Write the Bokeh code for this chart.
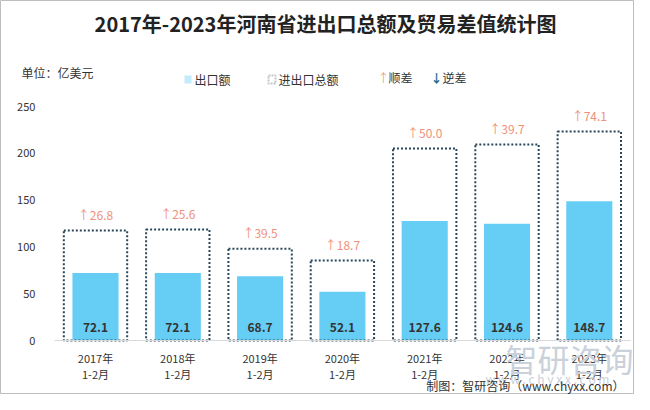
from bokeh.plotting import figure
from bokeh.models import ColumnDataSource, Label, BoxAnnotation, FixedTicker, Range1d
from bokeh.core.properties import value
from bokeh.embed import file_html
from bokeh.resources import INLINE

categories = ["2017年\n1-2月", "2018年\n1-2月", "2019年\n1-2月", "2020年\n1-2月",
              "2021年\n1-2月", "2022年\n1-2月", "2023年\n1-2月"]
exports = [72.1, 72.1, 68.7, 52.1, 127.6, 124.6, 148.7]
totals = [117.4, 118.6, 97.9, 85.5, 205.2, 209.5, 223.3]
balance = [26.8, 25.6, 39.5, 18.7, 50.0, 39.7, 74.1]
y_ticks = [0, 50, 100, 150, 200, 250]

FONT = "Noto Sans CJK SC"
W, H = 634, 394

# layout constants (pixels)
CAT_W = 82.3          # px per category
X0 = 95               # centre of first category
Y0 = 340              # y=0 baseline
PX_PER_UNIT = 0.936   # vertical scale

idx = list(range(len(categories)))
x_start = -X0 / CAT_W
x_end = (W - X0) / CAT_W
y_end = Y0 / PX_PER_UNIT
y_start = -(H - Y0) / PX_PER_UNIT

src = ColumnDataSource(dict(
    x=idx, exp=exports, tot=totals,
    bal_txt=["↑" + f"{b:.1f}" for b in balance],
    exp_txt=[f"{e:.1f}" for e in exports],
    zero=[0] * len(exports),
))

p = figure(x_range=Range1d(x_start, x_end), y_range=Range1d(y_start, y_end),
           width=W, height=H, output_backend="svg", toolbar_location=None, title=None,
           min_border=0)
p.outline_line_color = "#BDBDBD"
p.xgrid.grid_line_color = None
p.ygrid.grid_line_color = None

p.vbar(x="x", top="exp", width=0.56, source=src, fill_color="#66CEF5", line_color=None)
p.vbar(x="x", top="tot", width=0.77, source=src, fill_alpha=0, line_color="#28475A",
       line_width=2, line_dash="2 2")

p.text(x="x", y="zero", text="exp_txt", source=src, text_align="center", text_baseline="middle",
       y_offset=-13, text_font=value(FONT), text_font_size="12px", text_font_style="bold",
       text_color="#333333")
p.text(x="x", y="tot", text="bal_txt", source=src, text_align="center", text_baseline="middle",
       y_offset=-16, text_font=value(FONT), text_font_size="12px", text_color="#F0907A")

# axes drawn inside the canvas at fixed data locations
p.yaxis.fixed_location = -0.5
p.yaxis.bounds = (0, 250)
p.yaxis.ticker = FixedTicker(ticks=y_ticks)
p.yaxis.axis_line_color = None
p.yaxis.major_tick_line_color = None
p.yaxis.minor_tick_line_color = None
p.yaxis.major_label_text_font = FONT
p.yaxis.major_label_text_font_size = "11px"
p.yaxis.major_label_text_color = "#333333"
p.yaxis.major_label_standoff = 13

p.xaxis.fixed_location = 0
p.xaxis.bounds = (-0.5, len(categories) - 0.5)
p.xaxis.ticker = FixedTicker(ticks=idx)
p.xaxis.major_label_overrides = {i: c for i, c in zip(idx, categories)}
p.xaxis.axis_line_color = "#D9D9D9"
p.xaxis.major_tick_line_color = None
p.xaxis.minor_tick_line_color = None
p.xaxis.major_label_text_font = FONT
p.xaxis.major_label_text_font_size = "11px"
p.xaxis.major_label_text_line_height = 1.0
p.xaxis.major_label_text_color = "#333333"
p.xaxis.major_label_standoff = 3


def sx(X):
    return X


def sy(Y):
    return H - Y


def lab(X, Y, text, size="12px", color="#333333", align="left", style="normal", font=FONT):
    p.add_layout(Label(x=sx(X), y=sy(Y), x_units="screen", y_units="screen", text=text,
                       text_font=font, text_font_size=size, text_color=color,
                       text_align=align, text_baseline="middle", text_font_style=style))


def box(l, r, t, b, **kw):
    p.add_layout(BoxAnnotation(left=sx(l), right=sx(r), top=sy(t), bottom=sy(b),
                               left_units="screen", right_units="screen", top_units="screen",
                               bottom_units="screen", **kw))


lab(325, 23, "2017年-2023年河南省进出口总额及贸易差值统计图", size="20px", color="#222222",
    align="center", style="bold")
lab(21, 72, "单位：亿美元", size="12px")

box(184, 191, 75, 83, fill_color="#66CEF5", line_color=None)
lab(194, 79, "出口额")
box(268, 275, 75, 83, fill_alpha=0, line_color="#28475A", line_width=2, line_dash="2 1")
lab(278, 79, "进出口总额")
lab(377, 77, "↑", color="#F4A582")
lab(388, 77, "顺差")
lab(430, 77, "↓", color="#1F6E8C", style="bold")
lab(442, 77, "逆差")

# watermark
lab(505, 357, "智研咨询", size="32px", color="#CAD1DA")
lab(547, 378, "w w w . c h y x x . c o m", size="12px", color="#CAD1DA", align="center")

lab(624, 385, "制图：智研咨询（www.chyxx.com）", size="12px", color="#333333", align="right")

open("out.html", "w").write(file_html(p, INLINE))
